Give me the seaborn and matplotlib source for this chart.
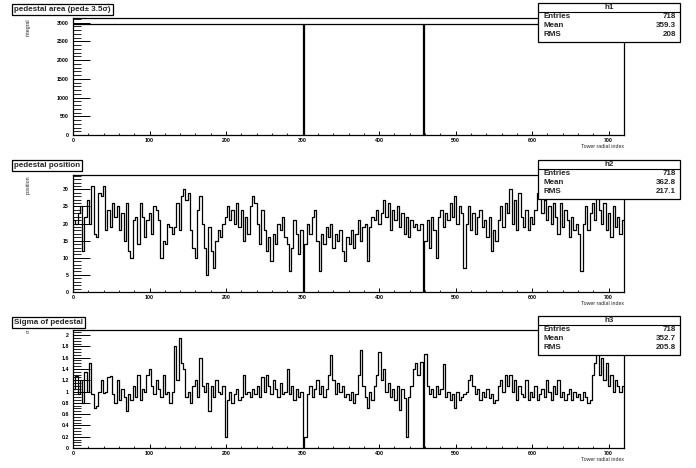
import numpy as np
import pandas as pd
import matplotlib
matplotlib.use("Agg")
import matplotlib.pyplot as plt
from matplotlib.patches import Rectangle
import seaborn as sns

# bins of width 3 over tower radial index 0..720, with the two empty towers
# (301 and 458) given a bin of width 1
edges = list(range(0, 723, 3))
edges[100], edges[101] = 301, 302
edges[152], edges[153] = 458, 459

area = [2975] * 100 + [0] + [2975] * 51 + [0] + [2975] * 87

position = [
    21, 20, 23, 25, 12, 22, 27, 20, 31, 17,
    16, 29, 28, 31, 18, 24, 19, 26, 22, 25,
    18, 23, 15, 26, 12, 10, 21, 22, 14, 26,
    22, 16, 21, 23, 17, 25, 24, 21, 10, 15,
    14, 20, 19, 17, 19, 26, 18, 28, 30, 27,
    29, 18, 13, 10, 24, 28, 20, 13, 5, 19,
    12, 7, 15, 18, 16, 20, 22, 25, 21, 24,
    20, 26, 19, 24, 15, 22, 17, 25, 28, 26,
    20, 14, 24, 18, 12, 16, 9, 17, 14, 20,
    18, 22, 16, 14, 6, 13, 21, 17, 11, 18,
    0, 14, 20, 17, 22, 24, 15, 6, 17, 14,
    19, 16, 20, 13, 17, 15, 18, 12, 9, 16,
    14, 18, 13, 17, 21, 15, 19, 20, 9, 19,
    22, 21, 24, 20, 23, 27, 22, 26, 18, 24,
    21, 25, 19, 23, 17, 22, 16, 21, 19, 20,
    18, 20, 0, 15, 21, 13, 22, 18, 10, 22,
    24, 19, 23, 21, 26, 22, 28, 20, 25, 23,
    7, 20, 25, 18, 23, 17, 22, 24, 19, 21,
    16, 22, 12, 18, 15, 21, 25, 19, 26, 23,
    30, 20, 27, 18, 29, 22, 19, 24, 18, 22,
    20, 24, 29, 31, 23, 27, 21, 25, 20, 26,
    22, 17, 26, 19, 24, 21, 16, 22, 18, 20,
    17, 6, 20, 25, 18, 23, 26, 21, 32, 24,
    20, 26, 18, 23, 16, 25, 19, 22, 17, 21,
]

sigma = [
    1.05, 1.27, 0.95, 1.2, 0.8, 1.35, 1.0, 1.5, 0.95, 0.7,
    0.75, 1.0, 1.2, 0.98, 1.0, 1.25, 1.27, 0.95, 0.8, 1.2,
    0.85, 1.05, 0.9, 0.65, 0.95, 0.85, 1.1, 0.9, 1.3, 0.85,
    1.05, 1.0, 1.3, 1.4, 1.1, 0.95, 1.2, 1.05, 0.9, 1.3,
    0.95, 1.0, 0.8, 1.0, 1.8, 1.2, 1.95, 1.5, 1.4, 0.9,
    1.0, 0.8, 1.1, 1.2, 0.9, 1.6, 1.1, 1.0, 1.15, 0.65,
    1.1, 0.9, 1.2, 1.0, 0.95, 1.1, 0.2, 0.85, 1.0, 0.8,
    0.95, 1.05, 0.85, 0.9, 1.3, 0.95, 1.0, 0.9, 1.05, 0.95,
    1.1, 0.9, 1.25, 1.0, 1.3, 1.1, 0.95, 1.2, 1.05, 0.9,
    1.15, 0.95, 1.0, 1.4, 0.95, 1.1, 0.85, 1.05, 0.9, 1.0,
    0.0, 0.2, 0.95, 1.1, 0.9, 1.05, 1.2, 0.95, 1.1, 0.9,
    1.05, 1.3, 1.64, 1.2, 0.95, 1.15, 1.0, 1.1, 0.9, 0.95,
    0.85, 1.0, 0.8, 0.95, 1.3, 1.73, 1.1, 0.9, 0.7, 1.0,
    0.85, 1.1, 1.3, 1.7, 1.2, 1.4, 1.0, 1.15, 0.9, 1.05,
    0.85, 1.1, 0.67, 1.05, 0.88, 0.2, 0.9, 1.1, 1.4, 1.5,
    1.3, 1.53, 0.0, 1.67, 1.1, 0.95, 1.05, 0.9, 1.1, 0.95,
    1.05, 1.48, 0.9, 1.0, 0.85, 0.95, 0.7, 1.0, 0.85, 0.9,
    0.95, 1.0, 1.2, 1.3, 1.1, 0.95, 1.05, 0.85, 1.0, 0.9,
    1.05, 0.88, 0.95, 0.8, 0.85, 1.1, 1.2, 1.0, 1.3, 1.1,
    1.3, 1.0, 1.2, 0.85, 1.1, 0.95, 0.9, 1.2, 0.85, 1.0,
    0.9, 1.1, 0.85, 0.95, 1.05, 0.9, 1.2, 1.0, 0.85, 1.1,
    0.95, 1.2, 0.9, 1.0, 0.85, 0.95, 1.05, 0.85, 1.0, 0.9,
    0.95, 0.85, 1.0, 0.9, 0.8, 0.85, 1.3, 1.5, 1.85, 1.3,
    1.6, 1.2, 1.5, 1.1, 1.3, 1.0, 1.2, 1.1, 1.0, 1.1,
]

titles = ["pedestal area (ped\u00b1 3.5\u03c3)", "pedestal position", "Sigma of pedestal"]
ylabels = ["integral", "position", "\u03c3"]
names = ["h1", "h2", "h3"]
entries = ["718", "718", "718"]
means = ["359.3", "362.8", "352.7"]
rmss = ["208", "217.1", "205.8"]

sns.set_style("white")
plt.rcParams["font.family"] = ["Liberation Sans", "DejaVu Sans"]
plt.rcParams["font.weight"] = "bold"

W, H = 696, 468
fig = plt.figure(figsize=(W / 100, H / 100), dpi=100)


def fx(x):
    return x / W


def fy(y):
    return 1 - y / H


centers = [(a + b) / 2 for a, b in zip(edges[:-1], edges[1:])]
series = [area, position, sigma]
frames = [(18, 135), (175, 292), (330, 448)]
ylims = [3124, 34.2, 2.09]
ymaj = [500, 5, 0.2]
ymin = [100, 1, 0.05]
title_y = [9.5, 165.5, 322.5]
box_top = [3, 160, 316]

for k in range(3):
    top, bot = frames[k]
    ax = fig.add_axes([fx(73), fy(bot), fx(624) - fx(73), (bot - top) / H])
    df = pd.DataFrame({"x": centers, "w": series[k]})
    sns.histplot(data=df, x="x", weights="w", bins=edges, element="step",
                 fill=False, color="black", linewidth=0.9, ax=ax)
    ax.set_xlim(0, 720)
    ax.set_ylim(0, ylims[k])
    ax.xaxis.set_major_locator(plt.MultipleLocator(100))
    ax.xaxis.set_minor_locator(plt.MultipleLocator(20))
    ax.yaxis.set_major_locator(plt.MultipleLocator(ymaj[k]))
    ax.yaxis.set_minor_locator(plt.MultipleLocator(ymin[k]))
    ax.yaxis.set_major_formatter(plt.FuncFormatter(lambda v, p: f"{v:g}"))
    ax.tick_params(which="both", bottom=True, left=True, top=False, right=False,
                   direction="in", color="black")
    ax.tick_params(axis="x", which="major", length=2.6, width=0.7,
                   labelsize=3.8, pad=2, labelcolor="black")
    ax.tick_params(axis="x", which="minor", length=1.3, width=0.6)
    ax.tick_params(axis="y", which="major", length=12, width=0.7,
                   labelsize=3.8, pad=3, labelcolor="black")
    ax.tick_params(axis="y", which="minor", length=6, width=0.6)
    for s in ax.spines.values():
        s.set_linewidth(0.9)
        s.set_color("black")
    ax.set_xlabel("Tower radial index", loc="right", fontsize=3.8, labelpad=1)
    ax.set_ylabel(ylabels[k], loc="top", fontsize=3.8)
    ax.yaxis.set_label_coords(-0.076, 1.0)

    # title box
    fig.text(fx(14), fy(title_y[k]), titles[k], fontsize=5.8, fontweight="bold",
             va="center", ha="left",
             bbox=dict(boxstyle="square,pad=0.25", fc="white", ec="black", lw=0.9))

    # stats box
    bt = box_top[k]
    fig.patches.append(Rectangle((fx(538), fy(bt + 39)), fx(680) - fx(538), 39 / H,
                                 transform=fig.transFigure, fc="white", ec="black",
                                 lw=0.9, zorder=5))
    fig.lines.append(plt.Line2D([fx(538), fx(680)], [fy(bt + 8.5)] * 2,
                                transform=fig.transFigure, color="black", lw=0.8,
                                zorder=6))
    fig.text(fx(609), fy(bt + 4.3), names[k], fontsize=5.8, ha="center",
             va="center", zorder=7)
    rows = [("Entries", entries[k]), ("Mean", means[k]), ("RMS", rmss[k])]
    for j, (lab, val) in enumerate(rows):
        yy = bt + 13.8 + j * 8.9
        fig.text(fx(543), fy(yy), lab, fontsize=5.8, ha="left", va="center", zorder=7)
        fig.text(fx(676), fy(yy), val, fontsize=5.8, ha="right", va="center", zorder=7)

fig.savefig("out.png", dpi=100)
